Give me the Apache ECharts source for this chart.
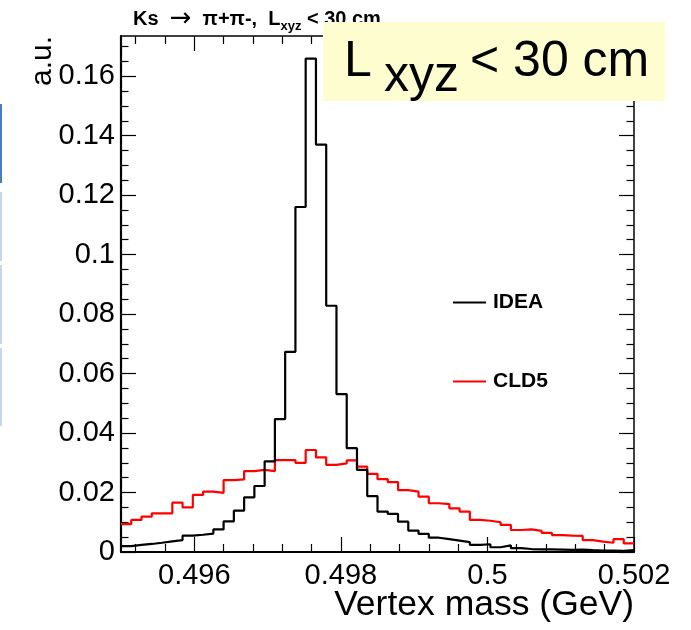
<!DOCTYPE html>
<html>
<head>
<meta charset="utf-8">
<script src="https://cdn.jsdelivr.net/npm/echarts@6/dist/echarts.min.js"></script>
<style>
html,body{margin:0;padding:0;background:#fff;}
#chart{width:691px;height:630px;}
</style>
</head>
<body>
<div id="chart"></div>
<script>
// ---- data ----
const binLow = 0.495;
const binWidth = 0.00014;
const seriesNames = ['IDEA', 'CLD5'];
const ideaValues = [
  0.0020, 0.0024, 0.0027, 0.0031, 0.0036, 0.0040, 0.0055, 0.0058, 0.0062, 0.0076,
  0.0103, 0.0139, 0.0184, 0.0222, 0.0305, 0.0447, 0.0673, 0.1160, 0.1659, 0.1370,
  0.0828, 0.0531, 0.0349, 0.0276, 0.0188, 0.0136, 0.0128, 0.0102, 0.0072, 0.0061,
  0.0048, 0.0043, 0.0038, 0.0033, 0.0024, 0.0026, 0.0016, 0.0022, 0.0013, 0.0010,
  0.0009, 0.0009, 0.0008, 0.0007, 0.0008, 0.0006, 0.0005, 0.0005, 0.0004, 0.0006
];
const cld5Values = [
  0.0094, 0.0108, 0.0119, 0.0130, 0.0130, 0.0166, 0.0150, 0.0192, 0.0203, 0.0199,
  0.0242, 0.0244, 0.0272, 0.0276, 0.0272, 0.0309, 0.0309, 0.0300, 0.0343, 0.0318,
  0.0293, 0.0298, 0.0308, 0.0287, 0.0263, 0.0245, 0.0235, 0.0208, 0.0203, 0.0186,
  0.0164, 0.0161, 0.0147, 0.0136, 0.0108, 0.0105, 0.0100, 0.0091, 0.0074, 0.0076,
  0.0071, 0.0064, 0.0057, 0.0055, 0.0054, 0.0040, 0.0035, 0.0031, 0.0043, 0.0029
];
const xMin = 0.495, xMax = 0.502;
const yMin = 0, yMax = 0.1735;
const xTickLabels = [0.496, 0.498, 0.5, 0.502];
const yTickLabels = [0, 0.02, 0.04, 0.06, 0.08, 0.1, 0.12, 0.14, 0.16];
const xMinorStep = 0.0004;
const yMinorStep = 0.005;
const xTitle = 'Vertex mass (GeV)';
const yTitle = 'a.u.';
const boxText = ['L', 'xyz', '< 30 cm'];

// ---- helpers ----
const FONT = "'Liberation Sans', Arial, Helvetica, sans-serif";
function histData(vals) {
  const d = [];
  for (let i = 0; i < vals.length; i++) d.push([+(binLow + i * binWidth).toFixed(6), vals[i]]);
  d.push([+(binLow + vals.length * binWidth).toFixed(6), vals[vals.length - 1]]);
  return d;
}
function minorTicks(lo, hi, step, majors) {
  const out = [];
  const start = Math.ceil(lo / step - 1e-9);
  for (let k = start; k * step <= hi + 1e-12; k++) {
    const v = +(k * step).toFixed(6);
    if (v < lo - 1e-12 || v > hi + 1e-12) continue;
    if (majors.some(m => Math.abs(m - v) < 1e-9)) continue;
    out.push(v);
  }
  return out;
}
const xMinor = minorTicks(xMin, xMax, xMinorStep, xTickLabels);
const yMinor = minorTicks(yMin, yMax, yMinorStep, yTickLabels);

function makeAxis(isX, pos, ticks, len, lineW, labels) {
  return {
    type: 'value',
    position: pos,
    min: isX ? xMin : yMin,
    max: isX ? xMax : yMax,
    splitLine: { show: false },
    axisLine: { show: lineW > 0, onZero: false, lineStyle: { color: '#000', width: lineW || 1 } },
    axisTick: { show: true, inside: true, length: len, customValues: ticks, lineStyle: { color: '#000', width: 1.2 } },
    axisLabel: labels ? {
      show: true, customValues: labels, color: '#000', fontSize: 29, fontFamily: FONT,
      margin: isX ? 9 : 6, formatter: v => String(v)
    } : { show: false }
  };
}

const chart = echarts.init(document.getElementById('chart'), null, { renderer: 'canvas' });
const option = {
  animation: false,
  backgroundColor: '#fff',
  grid: { left: 121, right: 57, top: 36, bottom: 78, containLabel: false },
  xAxis: [
    makeAxis(true, 'bottom', xTickLabels, 15, 2.2, xTickLabels),
    makeAxis(true, 'bottom', xMinor, 8, 0, null),
    makeAxis(true, 'top', xTickLabels, 15, 1.5, null),
    makeAxis(true, 'top', xMinor, 8, 0, null)
  ],
  yAxis: [
    makeAxis(false, 'left', yTickLabels, 15, 2.2, yTickLabels),
    makeAxis(false, 'left', yMinor, 7.5, 0, null),
    makeAxis(false, 'right', yTickLabels, 15, 1.5, null),
    makeAxis(false, 'right', yMinor, 7.5, 0, null)
  ],
  legend: {
    orient: 'vertical', left: 448, top: 287, itemWidth: 33, itemHeight: 2, itemGap: 58,
    icon: 'rect', data: seriesNames,
    textStyle: { fontSize: 21, fontWeight: 'bold', color: '#000', fontFamily: FONT, padding: [0, 0, 0, 2] }
  },
  series: [
    {
      name: seriesNames[0], type: 'line', step: 'end', data: histData(ideaValues),
      xAxisIndex: 0, yAxisIndex: 0, showSymbol: false, symbol: 'none',
      lineStyle: { color: '#000', width: 2.2 }, itemStyle: { color: '#000' }, z: 3
    },
    {
      name: seriesNames[1], type: 'line', step: 'end', data: histData(cld5Values),
      xAxisIndex: 0, yAxisIndex: 0, showSymbol: false, symbol: 'none',
      lineStyle: { color: '#ff0000', width: 2.2 }, itemStyle: { color: '#ff0000' }, z: 2
    }
  ],
  graphic: [
    // slide-edge artefacts
    { type: 'rect', shape: { x: 0, y: 104, width: 2, height: 79 }, style: { fill: '#4a7cc6' }, silent: true },
    { type: 'rect', shape: { x: 0, y: 192, width: 2, height: 69 }, style: { fill: '#c6d4ec' }, silent: true },
    { type: 'rect', shape: { x: 0, y: 265, width: 2, height: 79 }, style: { fill: '#c6d4ec' }, silent: true },
    { type: 'rect', shape: { x: 0, y: 348, width: 2, height: 78 }, style: { fill: '#c6d4ec' }, silent: true },
    // title (partly hidden by box)
    {
      type: 'text', left: 133, top: 6, z: 50,
      style: {
        text: '{b|Ks  }{n|\u2192}{b|  \u03c0+\u03c0-,  L}{s|xyz}{b| < 30 cm}',
        fill: '#000',
        rich: {
          b: { fontSize: 20, fontWeight: 'bold', fontFamily: FONT, fill: '#000' },
          n: { fontSize: 26, fontFamily: "'DejaVu Sans', sans-serif", fill: '#000' },
          s: { fontSize: 13, fontWeight: 'bold', fontFamily: FONT, fill: '#000', padding: [14, 0, 0, 0] }
        }
      }
    },
    // yellow label box
    { type: 'rect', z: 100, shape: { x: 323, y: 22, width: 342, height: 79 }, style: { fill: '#fdfdcf' } },
    { type: 'text', z: 101, x: 344, y: 62, style: { text: boxText[0], font: '50px ' + FONT, fill: '#000', textAlign: 'left', textVerticalAlign: 'middle' } },
    { type: 'text', z: 101, x: 384, y: 77, style: { text: boxText[1], font: '50px ' + FONT, fill: '#000', textAlign: 'left', textVerticalAlign: 'middle' } },
    { type: 'text', z: 101, x: 470, y: 62, style: { text: boxText[2], font: '50px ' + FONT, fill: '#000', textAlign: 'left', textVerticalAlign: 'middle' } },
    // axis titles
    { type: 'text', x: 634, y: 605, style: { text: xTitle, font: '35.5px ' + FONT, fill: '#000', textAlign: 'right', textVerticalAlign: 'middle' } },
    { type: 'text', x: 43, y: 36, rotation: Math.PI / 2, style: { text: yTitle, font: '30px ' + FONT, fill: '#000', textAlign: 'right', textVerticalAlign: 'middle' } }
  ]
};
chart.setOption(option);
</script>
</body>
</html>
